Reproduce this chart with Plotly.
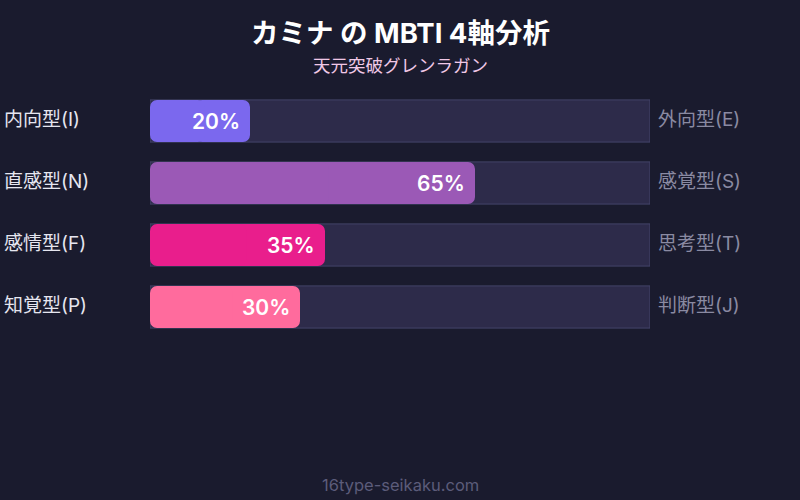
import plotly.graph_objects as go

# MBTI axis data
left_labels = ['内向型(I)', '直感型(N)', '感情型(F)', '知覚型(P)']
right_labels = ['外向型(E)', '感覚型(S)', '思考型(T)', '判断型(J)']
values = [20, 65, 35, 30]
colors = ['#7b68ee', '#9b59b6', '#e91e8c', '#ff6b9d']

rows = list(range(len(values)))
font_family = 'Inter, Noto Sans CJK JP, sans-serif'
bar_w = 0.68

fig = go.Figure()

# background tracks
fig.add_trace(go.Bar(
    y=rows, x=[100] * len(rows), orientation='h', width=bar_w,
    marker=dict(color='#2d2b4a', line=dict(color='#44446a', width=1)),
    hoverinfo='skip', showlegend=False))

# filled part, split in two halves so both ends get rounded
fig.add_trace(go.Bar(
    y=rows, x=[v * 0.55 for v in values], base=[v * 0.45 for v in values],
    orientation='h', width=bar_w,
    marker=dict(color=colors, cornerradius=7, line=dict(width=0)),
    hoverinfo='skip', showlegend=False))
fig.add_trace(go.Bar(
    y=rows, x=[-v * 0.55 for v in values], base=[v * 0.55 for v in values],
    orientation='h', width=bar_w,
    marker=dict(color=colors, cornerradius=7, line=dict(width=0)),
    hoverinfo='skip', showlegend=False))

# plot area in pixels
plot_top, plot_h = 90, 248
def paper_y(px):
    return (plot_top + plot_h - px) / plot_h

annotations = []
for i, v in enumerate(values):
    annotations.append(dict(
        x=v, y=i, xref='x', yref='y', text=f'{v}%', showarrow=False,
        xanchor='right', xshift=-8,
        font=dict(size=21, color='#ffffff', family=font_family, weight=600)))
    annotations.append(dict(
        x=-0.296, y=i, xref='paper', yref='y', text=left_labels[i], showarrow=False,
        xanchor='left', yshift=2, font=dict(size=19, color='#e6e6f0', family=font_family)))
    annotations.append(dict(
        x=1.0, y=i, xref='paper', yref='y', text=right_labels[i], showarrow=False,
        xanchor='left', xshift=6, yshift=2, font=dict(size=19, color='#8a8aa2', family=font_family)))

annotations.append(dict(
    x=0.5, y=paper_y(33), xref='paper', yref='paper', text='<b>カミナ の MBTI 4軸分析</b>',
    showarrow=False, yanchor='middle', font=dict(size=27.5, color='#ffffff', family=font_family)))
annotations.append(dict(
    x=0.5, y=paper_y(65), xref='paper', yref='paper', text='天元突破グレンラガン',
    showarrow=False, yanchor='middle', font=dict(size=17.5, color='#f0c8e6', family=font_family)))
annotations.append(dict(
    x=0.5, y=paper_y(485), xref='paper', yref='paper', text='16type-seikaku.com',
    showarrow=False, yanchor='middle', font=dict(size=16.5, color='#5c5c7a', family=font_family)))

fig.update_layout(
    width=800, height=500,
    barmode='overlay',
    paper_bgcolor='#1a1b2e', plot_bgcolor='#1a1b2e',
    margin=dict(l=150, r=150, t=plot_top, b=500 - plot_top - plot_h),
    xaxis=dict(range=[0, 100], visible=False, fixedrange=True),
    yaxis=dict(range=[len(rows) - 0.5, -0.5], visible=False, fixedrange=True),
    annotations=annotations,
    showlegend=False,
)

fig.write_html('out.html', config={'displayModeBar': False},
               post_script="document.body.style.margin='0';")
